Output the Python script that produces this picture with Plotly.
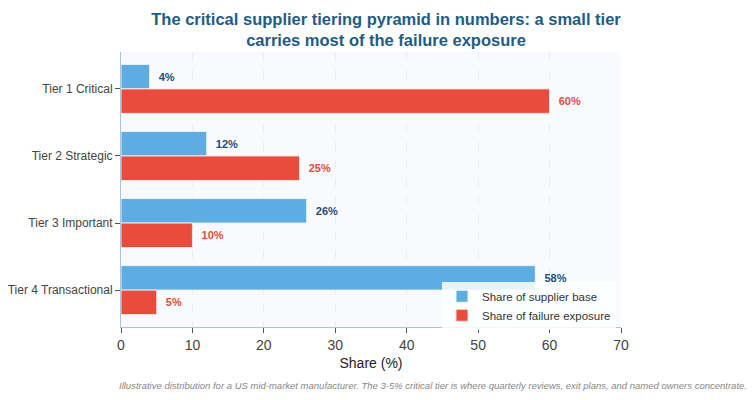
import plotly.graph_objects as go

tiers = ["Tier 1 Critical", "Tier 2 Strategic", "Tier 3 Important", "Tier 4 Transactional"]
supplier_base = [4, 12, 26, 58]
failure_exposure = [60, 25, 10, 5]
x_ticks = [0, 10, 20, 30, 40, 50, 60, 70]

title_text = ("The critical supplier tiering pyramid in numbers: a small tier<br>"
              "carries most of the failure exposure")
note_text = ("Illustrative distribution for a US mid-market manufacturer. The 3-5% critical tier is "
             "where quarterly reviews, exit plans, and named owners concentrate.")

FONT = "Liberation Sans, Arial, sans-serif"
BLUE = "#5DADE2"
RED = "#E74C3C"
PAD = "\u00a0\u00a0"

fig = go.Figure()
fig.add_trace(go.Bar(
    y=tiers, x=supplier_base, orientation="h", name="Share of supplier base",
    marker=dict(color=BLUE, line=dict(color="#EAF4FB", width=1)),
    text=[f"{PAD}{v}%" for v in supplier_base], textposition="outside",
    textfont=dict(family=FONT, size=11, color="#1F4E79", weight="bold"),
    cliponaxis=False,
))
fig.add_trace(go.Bar(
    y=tiers, x=failure_exposure, orientation="h", name="Share of failure exposure",
    marker=dict(color=RED, line=dict(color="#FBE3E0", width=1)),
    text=[f"{PAD}{v}%" for v in failure_exposure], textposition="outside",
    textfont=dict(family=FONT, size=11, color=RED, weight="bold"),
    cliponaxis=False,
))

fig.update_layout(
    width=756, height=400,
    barmode="group", bargap=0.27,
    paper_bgcolor="white", plot_bgcolor="#F8FAFD",
    margin=dict(l=121, r=135, t=52, b=73),
    font=dict(family=FONT, color="#444444"),
    title=dict(text=title_text, x=0.5106, xref="container", xanchor="center",
               y=1 - 24.5 / 400, yref="container", yanchor="middle",
               font=dict(family=FONT, size=16.5, color="#1F5C85", weight="bold")),
    showlegend=True,
    legend=dict(x=0.99, y=-0.01, xanchor="right", yanchor="bottom",
                bgcolor="rgba(255,255,255,0.85)", font=dict(family=FONT, size=11.5, color="#333333"),
                traceorder="normal"),
    xaxis=dict(range=[0, 70], tickvals=x_ticks, ticks="outside", ticklen=5,
               tickcolor="#555555", showline=True, linecolor="#A9C4E0", linewidth=1,
               showgrid=True, gridcolor="#EAEEF4", griddash="dash", gridwidth=1,
               zeroline=False, automargin=False, tickfont=dict(family=FONT, size=14, color="#444444"),
               title=dict(text="Share (%)", font=dict(family=FONT, size=14, color="#222222"), standoff=6)),
    yaxis=dict(autorange=False, range=[3.55, -0.55], ticks="outside", ticklen=5,
               tickcolor="#555555", showline=True, linecolor="#A9C4E0", linewidth=1,
               showgrid=False, zeroline=False, automargin=False,
               tickfont=dict(family=FONT, size=12, color="#444444")),
    annotations=[dict(text=note_text, xref="paper", yref="paper", x=1.0, y=0,
                      xanchor="right", yanchor="top", showarrow=False,
                      xshift=128, yshift=-51,
                      font=dict(family=FONT, size=9.5, color="#888888", style="italic"))],
)

fig.write_html("out.html")
